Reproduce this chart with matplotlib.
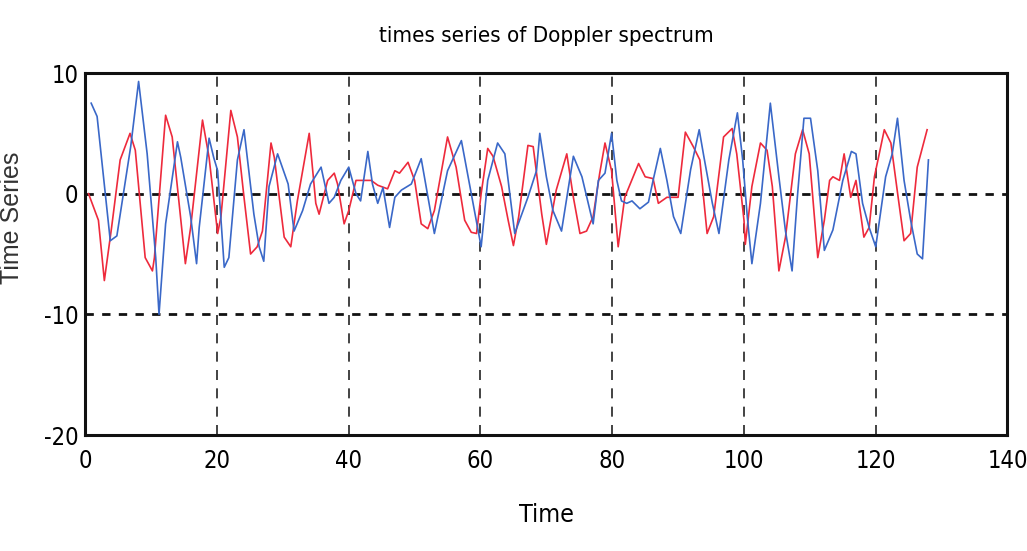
import matplotlib.pyplot as plt

# values (time, amplitude)
red_t = [0.5, 2, 2.9, 4, 5.3, 6.8, 7.6, 9.1, 10.2, 10.5, 12.2, 13.2, 15.2, 16, 17.8, 18.8, 20.1, 20.6,
         22.1, 23.1, 24.1, 25.1, 26.1, 26.9, 28.2, 28.7, 30.2, 31.2, 32.2, 34, 35, 35.5, 36.8, 37.8,
         38.3, 39.3, 40, 41.1, 43.4, 44.4, 45.9, 47, 47.7, 49, 50, 51, 52, 53, 55, 56.3, 57.6, 58.6,
         59.4, 60.1, 61.1, 61.9, 63.2, 64.2, 65, 65.8, 67.2, 68, 69.3, 70, 71.5, 73.1, 74.1, 75.1,
         76.1, 77.1, 78.1, 78.9, 79.9, 80.9, 81.9, 84, 85, 86.2, 87, 88.3, 90, 91.1, 92.3, 93.3, 94.4,
         95.4, 96.9, 98.2, 98.9, 100, 100.2, 101.2, 102.5, 103.5, 104.3, 105.3, 106.3, 107.8, 108.9,
         109.9, 111.2, 112.2, 113, 113.5, 114.5, 115.2, 116.2, 117, 118.2, 119, 119.8, 121.3, 122.3,
         123.4, 124.3, 125.3, 126.3, 127.8]
red_v = [0, -2.2, -7.2, -2.8, 2.8, 5, 3.6, -5.3, -6.4, -5.3, 6.5, 4.7, -5.8, -2.8, 6.1, 3, -3.3, -1.9,
         6.9, 4.7, -0.3, -5, -4.4, -3.1, 4.2, 3, -3.6, -4.4, -0.6, 5, -0.8, -1.7, 1.1, 1.7,
         0.8, -2.5, -1.4, 1.1, 1.1, 0.7, 0.4, 1.9, 1.7, 2.6, 1.1, -2.5, -2.9, -1.4, 4.7, 2.2, -2.2, -3.2,
         -3.3, 0, 3.75, 3.1, 0.6, -2.2, -4.3, -1.9, 4, 3.9, -1.7, -4.2, 0.3, 3.3, -0.3, -3.3,
         -3.1, -1.9, 1.7, 4.2, 1.9, -4.4, -0.3, 2.5, 1.4, 1.25, -0.8, -0.3, -0.3, 5.1, 3.9, 2.8, -3.3,
         -1.9, 4.7, 5.4, 3.3, -2.2, -4.2, 0.6, 4.2, 3.6, 0.6, -6.4, -3.6, 3.3, 5.3,
         3.3, -5.3, -2.2, 1.1, 1.4, 1.1, 3.3, -0.3, 1.1, -3.6, -2.8, 1.4, 5.3, 4.2,
         -0.3, -3.9, -3.3, 2.2, 5.3]

blue_t = [0.9, 1.8, 3.8, 4.8, 6.9, 8.1, 9.4, 10.7, 11.2, 12.2, 14, 14.5, 16, 16.9, 17.3, 18.8, 19.5,
          20.1, 21.1, 21.8, 23.1, 24.1, 25.6, 26.4, 27.1, 27.9, 29.2, 30.8, 31.7, 33, 34.2, 35.8, 37,
          37.8, 38.8, 40, 41.1, 41.8, 42.9, 43.6, 44.4, 45.2, 46.2, 47, 48, 49.5, 51, 53, 55, 57.1,
          58.6, 60.1, 61.1, 62.6, 63.7, 65.2, 67.2, 68.5, 69, 70, 71, 72.3, 74.1, 75.4, 77.1, 77.9,
          78.9, 79.9, 80.7, 81.4, 82.2, 83, 84.2, 85.5, 86.2, 87.3, 88.3, 89.3, 90.4, 91.9, 93.2,
          93.9, 95.2, 96.2, 97.7, 99, 99.8, 100.5, 101.2, 102.5, 104, 105.3, 106.3, 107.3, 108.1,
          109.1, 110.1, 111.2, 112.2, 113.5, 115, 116.3, 117, 118, 119, 120, 121.5, 122.5, 123.3,
          124.3, 125.3, 126.3, 127.1, 128]
blue_v = [7.5, 6.4, -3.9, -3.5, 3.9, 9.3, 3.3, -5.3, -10, -2.5, 4.3, 3, -1.9, -5.8, -2.8, 4.6, 3,
          1.9, -6.1, -5.3, 2.8, 5.3, -1.7, -4.4, -5.6, 0.6, 3.3, 0.8, -3.1, -1.4, 0.8, 2.2, -0.8,
          -0.3, 1.1, 2.2, 0, -0.6, 3.5, 0.8, -0.8, 0.5, -2.8, -0.3, 0.3, 0.8, 2.9, -3.3, 1.9, 4.4,
          0, -4.4, 1.1, 4.2, 3.3, -3.3, -0.3, 1.9, 5, 1.4, -1.4, -3.1, 3.1, 1.4, -2.5, 1.1,
          1.7, 5, 1.1, -0.6, -0.8, -0.6, -1.25, -0.7, 1.1, 3.75, 1.1, -1.9, -3.3, 2, 5.3,
          3.1, -0.8, -3.3, 2.8, 6.7, 2.8, -1.9, -5.8, -0.8, 7.5, 1.4, -3.1, -6.4, -0.3,
          6.25, 6.25, 1.9, -4.7, -3, 1.1, 3.5, 3.3, -0.8, -2.8, -4.4, 1.4, 3.3, 6.25,
          1.1, -2.2, -5, -5.4, 2.8]

x_ticks = [0, 20, 40, 60, 80, 100, 120, 140]
y_ticks = [-20, -10, 0, 10]

narrow = dict(family='DejaVu Sans', stretch='condensed')

fig = plt.figure(figsize=(10.27, 5.51), dpi=100)
ax = fig.add_axes([0.083, 0.2105, 0.898, 0.657])

ax.plot(red_t, red_v, color='#ee2a3c', linewidth=1.2)
ax.plot(blue_t, blue_v, color='#3a68c8', linewidth=1.2)

ax.set_xlim(0, 140)
ax.set_ylim(-20, 10)
ax.set_xticks(x_ticks)
ax.set_yticks(y_ticks)
ax.set_xticklabels([str(t) for t in x_ticks], fontsize=17, **narrow)
ax.set_yticklabels([str(t) for t in y_ticks], fontsize=17, **narrow)
ax.tick_params(axis='x', length=0, pad=10)
ax.tick_params(axis='y', length=0, pad=5)

# vertical grid dashed, horizontal grid dotted
ax.xaxis.grid(True, color='#222222', linestyle=(0, (6, 5)), linewidth=1.2)
ax.yaxis.grid(True, color='#111111', linestyle=(0, (3, 3)), linewidth=2)

for s in ax.spines.values():
    s.set_linewidth(2.2)
    s.set_color('#111111')

ax.set_title('times series of Doppler spectrum', fontsize=16, pad=22, **narrow)
ax.set_xlabel('Time', fontsize=18, labelpad=22, **narrow)
ax.set_ylabel('Time Series', family='Liberation Sans', fontsize=18, color='#333333')
ax.yaxis.set_label_coords(-0.066, 0.6)

plt.savefig('out.png', dpi=100)
